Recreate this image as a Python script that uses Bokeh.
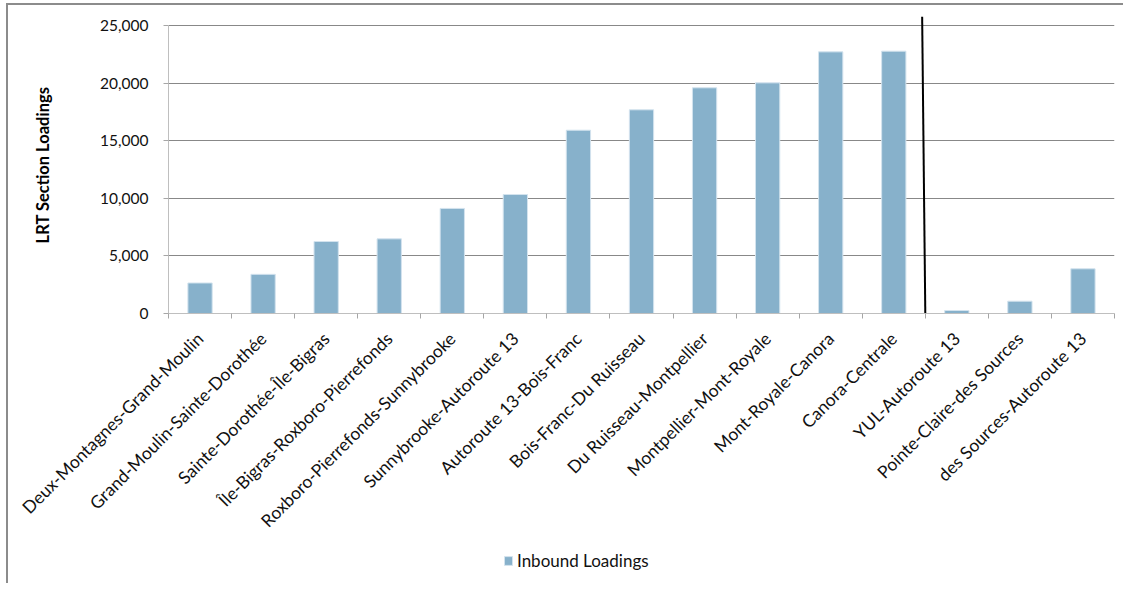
import math
from bokeh.plotting import figure
from bokeh.layouts import column
from bokeh.models import (FixedTicker, Legend, LegendItem, Range1d, ColumnDataSource,
                          NumeralTickFormatter)
from bokeh.embed import file_html
from bokeh.resources import INLINE

sections = [
    "Deux-Montagnes-Grand-Moulin",
    "Grand-Moulin-Sainte-Dorothée",
    "Sainte-Dorothée-Île-Bigras",
    "Île-Bigras-Roxboro-Pierrefonds",
    "Roxboro-Pierrefonds-Sunnybrooke",
    "Sunnybrooke-Autoroute 13",
    "Autoroute 13-Bois-Franc",
    "Bois-Franc-Du Ruisseau",
    "Du Ruisseau-Montpellier",
    "Montpellier-Mont-Royale",
    "Mont-Royale-Canora",
    "Canora-Centrale",
    "YUL-Autoroute 13",
    "Pointe-Claire-des Sources",
    "des Sources-Autoroute 13",
]
inbound = [2650, 3400, 6250, 6480, 9120, 10330, 15910, 17680, 19590, 20020,
           22710, 22770, 260, 1070, 3880]
y_ticks = [0, 5000, 10000, 15000, 20000, 25000]
divider_after = 12          # number of sections before the divider line
series_name = "Inbound Loadings"
y_title = "LRT Section Loadings"

BAR_FILL = "#87B1CB"
BAR_EDGE = "#D3E3EE"

n = len(sections)
positions = list(range(1, n + 1))
boundaries = [i + 0.5 for i in range(n + 1)]
src = ColumnDataSource(dict(x=positions, top=inbound))

y_top = y_ticks[-1] * 1.0312

p = figure(width=1115, height=538, output_backend="svg", toolbar_location=None,
           x_range=Range1d(0.5, n + 0.5), y_range=Range1d(0, y_top),
           min_border_left=160, min_border_right=9, min_border_top=11,
           min_border_bottom=230)
p.outline_line_color = None

bars = p.vbar(x="x", top="top", width=0.385, source=src,
              fill_color=BAR_FILL, line_color=BAR_EDGE, line_width=1)

# divider between the line sections
dx = divider_after + 0.5
p.segment(x0=[dx], y0=[0], x1=[dx - 0.05], y1=[y_top],
          line_color="black", line_width=2)

# grid
p.xgrid.visible = False
p.ygrid.ticker = FixedTicker(ticks=y_ticks[1:])
p.ygrid.grid_line_color = "#888888"
p.ygrid.grid_line_width = 1

# y axis
p.yaxis.ticker = FixedTicker(ticks=y_ticks)
p.yaxis.bounds = (y_ticks[0], y_ticks[-1])
p.yaxis.formatter = NumeralTickFormatter(format="0,0")
p.yaxis.axis_line_color = "#bfbfbf"
p.yaxis.major_tick_line_color = "#a6a6a6"
p.yaxis.major_tick_out = 5
p.yaxis.major_tick_in = 0
p.yaxis.minor_tick_line_color = None
p.yaxis.major_label_standoff = 15
p.yaxis.major_label_text_font = "Lato"
p.yaxis.major_label_text_font_size = "15.5px"
p.yaxis.major_label_text_color = "#111111"
p.yaxis.axis_label = y_title
p.yaxis.axis_label_text_font = "Lato"
p.yaxis.axis_label_text_font_size = "16.5px"
p.yaxis.axis_label_text_font_style = "bold"
p.yaxis.axis_label_text_color = "#000000"
p.yaxis.axis_label_standoff = 44

# x axis
p.xaxis.ticker = FixedTicker(ticks=positions, minor_ticks=boundaries)
p.xaxis.major_label_overrides = {pos: name for pos, name in zip(positions, sections)}
p.xaxis.major_label_orientation = math.pi / 4
p.xaxis.major_tick_out = 0
p.xaxis.major_tick_in = 0
p.xaxis.minor_tick_out = 5
p.xaxis.minor_tick_in = 0
p.xaxis.minor_tick_line_color = "#a6a6a6"
p.xaxis.axis_line_color = "#bfbfbf"
p.xaxis.major_label_standoff = 17
p.xaxis.major_label_text_font = "Lato"
p.xaxis.major_label_text_font_size = "17.5px"
p.xaxis.major_label_text_color = "#111111"

# legend strip below the chart (its ranges keep the proxy bars far out of view)
pl = figure(width=1115, height=40, output_backend="svg", toolbar_location=None,
            x_axis_type=None, y_axis_type=None, min_border=0,
            x_range=Range1d(1000, 1001), y_range=Range1d(1e7, 1e7 + 1))
pl.outline_line_color = None
pl.grid.visible = False
proxy = pl.vbar(x="x", top="top", width=0.385, source=src, fill_color=BAR_FILL,
                line_color=BAR_EDGE, line_width=1)
legend = Legend(items=[LegendItem(label=series_name, renderers=[proxy])],
                location=(335, 12))
legend.border_line_color = None
legend.background_fill_alpha = 0
legend.padding = 0
legend.margin = 0
legend.glyph_width = 10
legend.glyph_height = 11
legend.label_height = 12
legend.label_standoff = 4
legend.label_text_font = "Lato"
legend.label_text_font_size = "17px"
legend.label_text_color = "#111111"
pl.add_layout(legend, "center")

layout = column(p, pl, spacing=0)
layout.styles = {"border-top": "2px solid #8c8c8c", "border-left": "2px solid #8c8c8c",
                 "margin-left": "6px", "margin-top": "3px"}

open("out.html", "w").write(file_html(layout, INLINE))
